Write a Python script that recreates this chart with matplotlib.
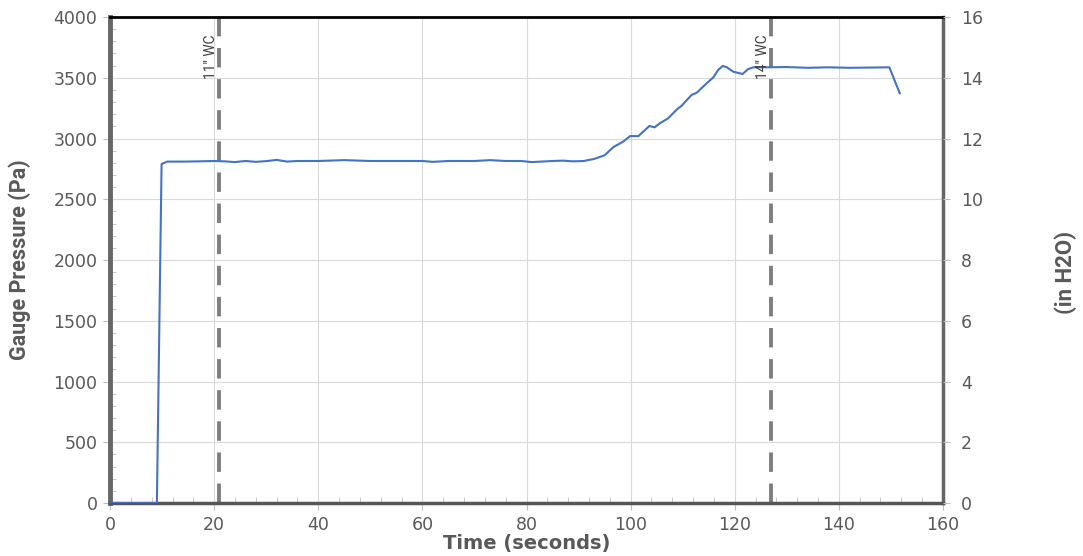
import numpy as np
import matplotlib.pyplot as plt
from matplotlib.ticker import MultipleLocator

# Datos
time_s = [0, 9, 9.9, 11, 14, 17, 20, 22, 24, 26, 28, 30, 32, 34, 36, 40, 45, 50,
          55, 60, 62, 65, 70, 73, 76, 79, 81, 85, 87, 89, 91, 93, 95, 96.7, 98.6,
          99.9, 101.5, 103.6, 104.6, 105.6, 107.2, 108.9, 109.8, 111.7, 112.7,
          114.6, 115.9, 116.8, 117.7, 118.5, 119.7, 121.5, 122.6, 123.6, 126,
          130, 134, 138, 142, 146, 149.7, 151.7]
pressure_pa = [0, 0, 2790, 2810, 2810, 2812, 2815, 2812, 2806, 2815, 2808, 2814,
               2824, 2810, 2815, 2815, 2822, 2815, 2815, 2815, 2808, 2815, 2815,
               2822, 2815, 2815, 2806, 2815, 2818, 2812, 2815, 2832, 2862, 2930,
               2975, 3020, 3020, 3103, 3092, 3125, 3166, 3240, 3270, 3358, 3377,
               3454, 3504, 3564, 3597, 3586, 3550, 3531, 3572, 3586, 3586, 3588,
               3582, 3586, 3582, 3584, 3586, 3372]

wc_lines = [21, 127]
wc_labels = ['11" WC', '14" WC']

gris = '#595959'
narrow = ['Roboto', 'DejaVu Sans']

fig = plt.figure(figsize=(10.83, 5.56), dpi=100)
ax = fig.add_axes([0.1016, 0.0953, 0.7691, 0.8741])

ax.plot(time_s, pressure_pa, color='#4472C4', lw=1.5, zorder=3)

for x, lab in zip(wc_lines, wc_labels):
    ax.axvline(x, color='#7f7f7f', lw=2.8, dashes=(5, 3), zorder=2)
    ax.text(x - 0.3, 3860, lab, rotation=90, ha='right', va='top',
            fontsize=10, color='#404040', family=narrow)

ax.set_xlim(0, 160)
ax.set_ylim(0, 4000)
ax.xaxis.set_major_locator(MultipleLocator(20))
ax.xaxis.set_minor_locator(MultipleLocator(4))
ax.yaxis.set_major_locator(MultipleLocator(500))
ax.yaxis.set_minor_locator(MultipleLocator(100))
ax.grid(True, which='major', color='#d9d9d9', lw=0.8, zorder=0)

ax.tick_params(which='major', length=5, color='#bfbfbf', labelsize=12.5,
               labelcolor=gris, pad=4)
ax.tick_params(which='minor', direction='in', length=4, color='#bfbfbf')

ax.spines['top'].set_color('black')
ax.spines['top'].set_linewidth(2)
ax.spines['left'].set_color('#666666')
ax.spines['left'].set_linewidth(3.5)
ax.spines['bottom'].set_color('#555555')
ax.spines['bottom'].set_linewidth(2.5)
ax.spines['right'].set_color('#666666')
ax.spines['right'].set_linewidth(2.5)

ax.set_xlabel('Time (seconds)', fontsize=14, fontweight='bold', color=gris,
              labelpad=0)
ax.set_ylabel('Gauge Pressure (Pa)', fontsize=15.5, fontweight='bold', color=gris,
              family=narrow, labelpad=16)

ax2 = ax.twinx()
ax2.set_ylim(0, 16)
ax2.yaxis.set_major_locator(MultipleLocator(2))
ax2.tick_params(length=5, color='#bfbfbf', labelsize=12.5, labelcolor=gris, pad=8)
for s in ax2.spines.values():
    s.set_visible(False)

fig.text(1066 / 1083, 0.51, '(in H2O)', rotation=90, ha='center', va='center',
         fontsize=16, fontweight='bold', color=gris, family=narrow)

fig.savefig('out.png', dpi=100)
